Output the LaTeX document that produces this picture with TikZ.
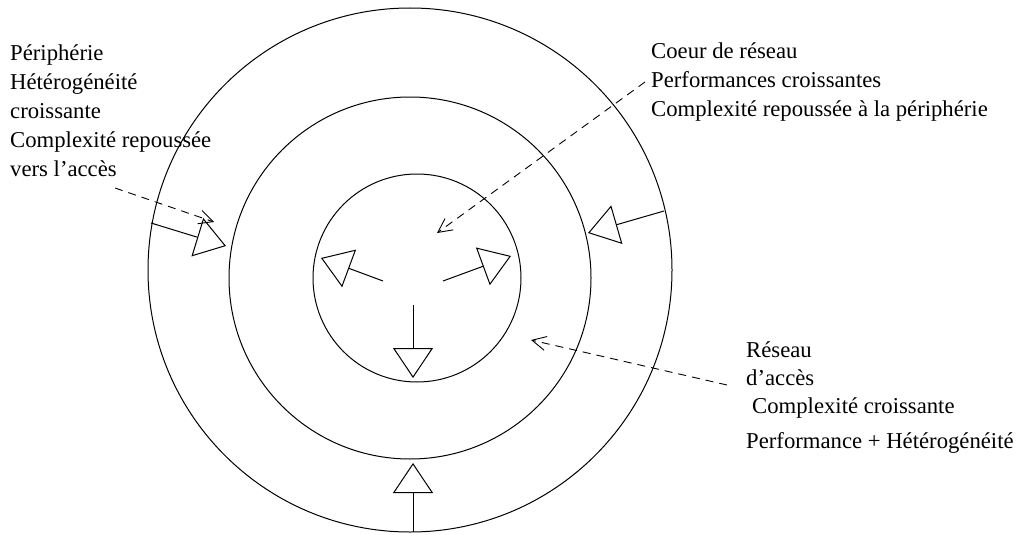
\documentclass[tikz,border=0pt]{standalone}
\usepackage{fontspec}
\setmainfont{Liberation Serif}
\usetikzlibrary{arrows.meta}
\begin{document}
\begin{tikzpicture}[x=1pt,y=-1pt,
  ring/.style={circle,draw,line width=1pt,inner sep=0pt,outer sep=0pt},
  push/.style={line width=1pt,-{Triangle[open,length=30pt,width=40pt,line width=1pt]}},
  pointer/.style={line width=0.9pt,dash pattern=on 8pt off 6pt,
    -{Straight Barb[length=14pt,width=14pt,line width=0.9pt]}},
  txt/.style={anchor=base west,inner sep=0pt,font=\fontsize{22.7}{29}\selectfont}
]
\useasboundingbox (0,0) rectangle (1023,535);

% three nested zones
\node[ring,minimum size=524pt] (outer) at (410,270) {};
\node[ring,minimum size=362pt] (middle) at (410,278) {};
\node[ring,minimum size=208pt] (core) at (417,278) {};

% pushes from the periphery towards the access ring
\coordinate (pL0) at (151,223); \coordinate (pL1) at (226,246);
\coordinate (pR0) at (664,211); \coordinate (pR1) at (588,233);
\coordinate (pB0) at (413,532); \coordinate (pB1) at (413,463);
\draw[push] (pL0) -- (pL1);
\draw[push] (pR0) -- (pR1);
\draw[push] (pB0) -- (pB1);

% pushes from the core outwards
\coordinate (cL0) at (383,281); \coordinate (cL1) at (321,258);
\coordinate (cR0) at (443,281); \coordinate (cR1) at (511,256);
\coordinate (cB0) at (413,305); \coordinate (cB1) at (413,378);
\draw[push] (cL0) -- (cL1);
\draw[push] (cR0) -- (cR1);
\draw[push] (cB0) -- (cB1);

% periphery text
\node[txt] (t1) at (10,60) {Périphérie};
\node[txt] (t2) at (10,89) {Hétérogénéité};
\node[txt] (t3) at (10,118) {croissante};
\node[txt] (t4) at (10,147) {Complexité repoussée};
\node[txt] (t5) at (10,176) {vers l’accès};

% core text
\node[txt] (c1) at (651,59) {Coeur de réseau};
\node[txt] (c2) at (651,88) {Performances croissantes};
\node[txt] (c3) at (651,117) {Complexité repoussée à la périphérie};

% access network text
\node[txt] (a1) at (746,357) {Réseau};
\node[txt] (a2) at (746,385) {d’accès};
\node[txt] (a3) at (752,413) {Complexité croissante};
\node[txt] (a4) at (746,448) {Performance + Hétérogénéité};

% pointers from the texts
\coordinate (dL0) at (115,188); \coordinate (dL1) at (214,222);
\coordinate (dC0) at (645,82);  \coordinate (dC1) at (437,233);
\coordinate (dA0) at (727,385); \coordinate (dA1) at (531,340);
\draw[pointer] (dL0) -- (dL1);
\draw[pointer] (dC0) -- (dC1);
\draw[pointer] (dA0) -- (dA1);
\end{tikzpicture}
\end{document}
